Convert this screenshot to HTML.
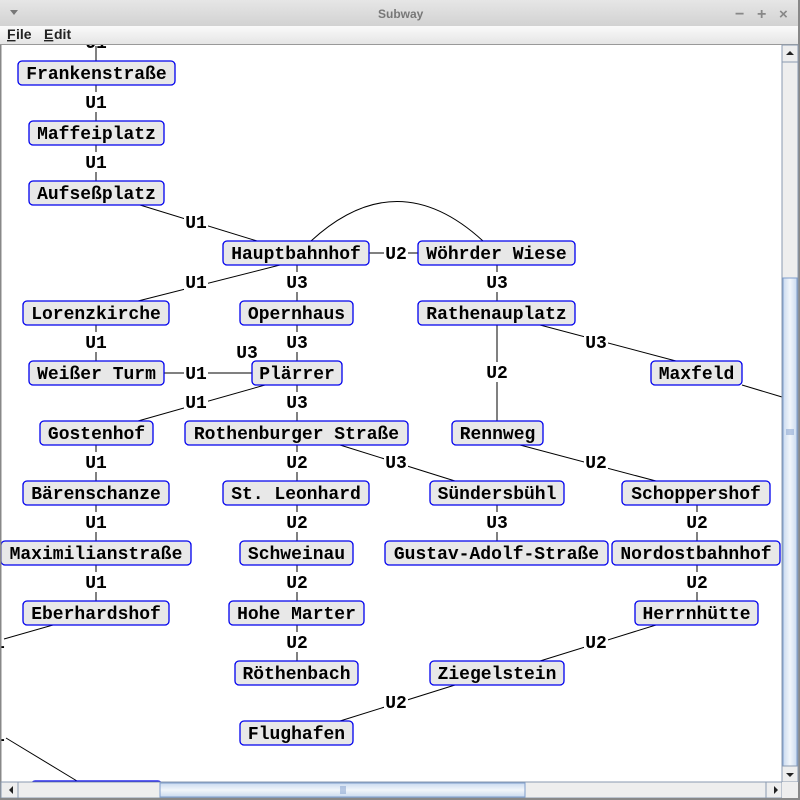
<!DOCTYPE html>
<html><head><meta charset="utf-8"><style>
html,body{margin:0;padding:0;width:800px;height:800px;overflow:hidden;background:#fff}
svg{display:block}
.n rect{fill:#e8e8e8;stroke:#0000ee;stroke-width:1.3}
text{font-family:"Liberation Mono",monospace;font-weight:bold;font-size:18px;fill:#000}
.l{stroke:#000;stroke-width:1;fill:none}
.lb{fill:#fff}
.m{font-family:'Liberation Sans',sans-serif;font-weight:bold;font-size:14px;fill:#222}
</style></head><body>
<svg width="800" height="800" xmlns="http://www.w3.org/2000/svg">
<defs><linearGradient id="tb" x1="0" y1="0" x2="0" y2="1"><stop offset="0" stop-color="#e6e6e6"/><stop offset="1" stop-color="#d2d2d2"/></linearGradient>
<linearGradient id="mb" x1="0" y1="0" x2="0" y2="1"><stop offset="0" stop-color="#fafafa"/><stop offset="1" stop-color="#e4e4e4"/></linearGradient>
<linearGradient id="th" x1="0" y1="0" x2="1" y2="0"><stop offset="0" stop-color="#c9daef"/><stop offset="0.5" stop-color="#f2f6fb"/><stop offset="1" stop-color="#c9daef"/></linearGradient>
<linearGradient id="thh" x1="0" y1="0" x2="0" y2="1"><stop offset="0" stop-color="#c9daef"/><stop offset="0.5" stop-color="#f2f6fb"/><stop offset="1" stop-color="#c9daef"/></linearGradient>
</defs>
<g class="l">
<line x1="96" y1="46" x2="96" y2="61"/>
<line x1="96" y1="85" x2="96" y2="121"/>
<line x1="96" y1="145" x2="96" y2="181"/>
<line x1="140" y1="205" x2="257" y2="241"/>
<line x1="280" y1="265" x2="138" y2="301"/>
<line x1="369" y1="253" x2="418" y2="253"/>
<path d="M311,241 Q397,162 483,241"/>
<line x1="297" y1="265" x2="297" y2="301"/>
<line x1="297" y1="325" x2="297" y2="361"/>
<line x1="497" y1="265" x2="497" y2="301"/>
<line x1="540" y1="325" x2="676" y2="361"/>
<line x1="497" y1="325" x2="497" y2="421"/>
<line x1="96" y1="325" x2="96" y2="361"/>
<line x1="164" y1="373" x2="252" y2="373"/>
<line x1="265" y1="385" x2="138" y2="421"/>
<line x1="297" y1="385" x2="297" y2="421"/>
<line x1="742" y1="385" x2="782" y2="397"/>
<line x1="96" y1="445" x2="96" y2="481"/>
<line x1="297" y1="445" x2="297" y2="481"/>
<line x1="340" y1="445" x2="455" y2="481"/>
<line x1="520" y1="445" x2="656" y2="481"/>
<line x1="96" y1="505" x2="96" y2="541"/>
<line x1="297" y1="505" x2="297" y2="541"/>
<line x1="497" y1="505" x2="497" y2="541"/>
<line x1="697" y1="505" x2="697" y2="541"/>
<line x1="96" y1="565" x2="96" y2="601"/>
<line x1="297" y1="565" x2="297" y2="601"/>
<line x1="697" y1="565" x2="697" y2="601"/>
<line x1="53" y1="625" x2="4" y2="639"/>
<line x1="297" y1="625" x2="297" y2="661"/>
<line x1="656" y1="625" x2="540" y2="661"/>
<line x1="455" y1="685" x2="340" y2="721"/>
<line x1="6" y1="738" x2="77" y2="781"/>
</g>
<g text-anchor="middle">
<g class="lb">
<rect x="84" y="92" width="24" height="20"/><rect x="84" y="152" width="24" height="20"/>
<rect x="184" y="212" width="24" height="20"/><rect x="184" y="272" width="24" height="20"/>
<rect x="384" y="243" width="24" height="20"/><rect x="285" y="272" width="24" height="20"/>
<rect x="285" y="332" width="24" height="20"/><rect x="485" y="272" width="24" height="20"/>
<rect x="584" y="332" width="24" height="20"/><rect x="485" y="362" width="24" height="20"/>
<rect x="84" y="332" width="24" height="20"/><rect x="184" y="363" width="24" height="20"/>
<rect x="184" y="392" width="24" height="20"/><rect x="285" y="392" width="24" height="20"/>
<rect x="84" y="452" width="24" height="20"/><rect x="285" y="452" width="24" height="20"/>
<rect x="384" y="452" width="24" height="20"/><rect x="584" y="452" width="24" height="20"/>
<rect x="84" y="512" width="24" height="20"/><rect x="285" y="512" width="24" height="20"/>
<rect x="485" y="512" width="24" height="20"/><rect x="685" y="512" width="24" height="20"/>
<rect x="84" y="572" width="24" height="20"/><rect x="285" y="572" width="24" height="20"/>
<rect x="685" y="572" width="24" height="20"/><rect x="285" y="632" width="24" height="20"/>
<rect x="584" y="632" width="24" height="20"/><rect x="384" y="692" width="24" height="20"/>
</g>
<text x="96" y="48">U1</text>
<text x="96" y="108">U1</text><text x="96" y="168">U1</text>
<text x="196" y="228">U1</text><text x="196" y="288">U1</text>
<text x="396" y="259">U2</text><text x="297" y="288">U3</text>
<text x="297" y="348">U3</text><text x="497" y="288">U3</text>
<text x="596" y="348">U3</text><text x="497" y="378">U2</text>
<text x="96" y="348">U1</text><text x="196" y="379">U1</text>
<text x="247" y="358">U3</text>
<text x="196" y="408">U1</text><text x="297" y="408">U3</text>
<text x="96" y="468">U1</text><text x="297" y="468">U2</text>
<text x="396" y="468">U3</text><text x="596" y="468">U2</text>
<text x="96" y="528">U1</text><text x="297" y="528">U2</text>
<text x="497" y="528">U3</text><text x="697" y="528">U2</text>
<text x="96" y="588">U1</text><text x="297" y="588">U2</text>
<text x="697" y="588">U2</text><text x="297" y="648">U2</text>
<text x="596" y="648">U2</text><text x="396" y="708">U2</text>
<text x="-6" y="648">U1</text><text x="-6" y="741">U1</text>
</g>
<g class="n" text-anchor="middle">
<rect x="18" y="61" width="157" height="24" rx="4"/><text x="96.5" y="79">Frankenstraße</text>
<rect x="29" y="121" width="135" height="24" rx="4"/><text x="96.5" y="139">Maffeiplatz</text>
<rect x="29" y="181" width="135" height="24" rx="4"/><text x="96.5" y="199">Aufseßplatz</text>
<rect x="223" y="241" width="146" height="24" rx="4"/><text x="296" y="259">Hauptbahnhof</text>
<rect x="418" y="241" width="157" height="24" rx="4"/><text x="496.5" y="259">Wöhrder Wiese</text>
<rect x="23" y="301" width="146" height="24" rx="4"/><text x="96" y="319">Lorenzkirche</text>
<rect x="240" y="301" width="113" height="24" rx="4"/><text x="296.5" y="319">Opernhaus</text>
<rect x="418" y="301" width="157" height="24" rx="4"/><text x="496.5" y="319">Rathenauplatz</text>
<rect x="29" y="361" width="135" height="24" rx="4"/><text x="96.5" y="379">Weißer Turm</text>
<rect x="252" y="361" width="90" height="24" rx="4"/><text x="297" y="379">Plärrer</text>
<rect x="651" y="361" width="91" height="24" rx="4"/><text x="696.5" y="379">Maxfeld</text>
<rect x="40" y="421" width="113" height="24" rx="4"/><text x="96.5" y="439">Gostenhof</text>
<rect x="185" y="421" width="223" height="24" rx="4"/><text x="296.5" y="439">Rothenburger Straße</text>
<rect x="452" y="421" width="91" height="24" rx="4"/><text x="497.5" y="439">Rennweg</text>
<rect x="23" y="481" width="146" height="24" rx="4"/><text x="96" y="499">Bärenschanze</text>
<rect x="223" y="481" width="146" height="24" rx="4"/><text x="296" y="499">St. Leonhard</text>
<rect x="430" y="481" width="134" height="24" rx="4"/><text x="497" y="499">Sündersbühl</text>
<rect x="622" y="481" width="148" height="24" rx="4"/><text x="696" y="499">Schoppershof</text>
<rect x="1" y="541" width="190" height="24" rx="4"/><text x="96" y="559">Maximilianstraße</text>
<rect x="240" y="541" width="113" height="24" rx="4"/><text x="296.5" y="559">Schweinau</text>
<rect x="385" y="541" width="223" height="24" rx="4"/><text x="496.5" y="559">Gustav-Adolf-Straße</text>
<rect x="612" y="541" width="168" height="24" rx="4"/><text x="696" y="559">Nordostbahnhof</text>
<rect x="23" y="601" width="146" height="24" rx="4"/><text x="96" y="619">Eberhardshof</text>
<rect x="229" y="601" width="135" height="24" rx="4"/><text x="296.5" y="619">Hohe Marter</text>
<rect x="635" y="601" width="123" height="24" rx="4"/><text x="696.5" y="619">Herrnhütte</text>
<rect x="235" y="661" width="123" height="24" rx="4"/><text x="296.5" y="679">Röthenbach</text>
<rect x="430" y="661" width="134" height="24" rx="4"/><text x="497" y="679">Ziegelstein</text>
<rect x="240" y="721" width="113" height="24" rx="4"/><text x="296.5" y="739">Flughafen</text>
<rect x="31" y="781" width="131" height="24" rx="4"/>
</g>
<rect x="0" y="0" width="800" height="26" fill="url(#tb)"/>
<path d="M10,10 L18,10 L14,15 Z" fill="#777"/>
<text x="378" y="18" style="font-family:'Liberation Sans',sans-serif;font-weight:bold;font-size:12px;fill:#777">Subway</text>
<text x="735" y="19" style="font-family:'Liberation Sans',sans-serif;font-size:16px;fill:#888">−</text>
<text x="757" y="19" style="font-family:'Liberation Sans',sans-serif;font-size:16px;fill:#888">+</text>
<text x="779" y="19" style="font-family:'Liberation Sans',sans-serif;font-size:15px;fill:#888">×</text>
<rect x="0" y="26" width="800" height="19" fill="url(#mb)"/>
<line x1="0" y1="44.5" x2="800" y2="44.5" stroke="#999"/>
<text x="7" y="39" class="m" style="text-decoration:underline">F</text>
<text x="16" y="39" class="m">ile</text>
<text x="44" y="39" class="m" style="text-decoration:underline">E</text>
<text x="54" y="39" class="m">dit</text>
<rect x="0" y="45" width="1.5" height="755" fill="#888"/>
<rect x="798" y="0" width="2" height="800" fill="#888"/>
<rect x="782" y="45" width="16" height="737" fill="#eeeeee" stroke="#8a9ab0" stroke-width="1"/>
<path d="M786,55 L794,55 L790,51 Z" fill="#222"/>
<line x1="782" y1="62" x2="798" y2="62" stroke="#8a9ab0"/>
<rect x="783" y="278" width="14" height="488" fill="url(#th)" stroke="#7f9dcc"/>
<line x1="786" y1="430" x2="794" y2="430" stroke="#7f9dcc"/><line x1="786" y1="432" x2="794" y2="432" stroke="#7f9dcc"/><line x1="786" y1="434" x2="794" y2="434" stroke="#7f9dcc"/>
<line x1="782" y1="766" x2="798" y2="766" stroke="#8a9ab0"/>
<path d="M786,773 L794,773 L790,777 Z" fill="#222"/>
<rect x="1" y="782" width="781" height="16" fill="#eeeeee" stroke="#8a9ab0"/>
<path d="M13,786 L13,794 L9,790 Z" fill="#222"/>
<line x1="18" y1="782" x2="18" y2="798" stroke="#8a9ab0"/>
<rect x="160" y="783" width="365" height="14" fill="url(#thh)" stroke="#7f9dcc"/>
<line x1="341" y1="786" x2="341" y2="794" stroke="#7f9dcc"/><line x1="343" y1="786" x2="343" y2="794" stroke="#7f9dcc"/><line x1="345" y1="786" x2="345" y2="794" stroke="#7f9dcc"/>
<line x1="766" y1="782" x2="766" y2="798" stroke="#8a9ab0"/>
<path d="M774,786 L774,794 L778,790 Z" fill="#222"/>
<rect x="782" y="782" width="16" height="16" fill="#eeeeee"/>
<rect x="0" y="798" width="800" height="2" fill="#888"/>
</svg>
</body></html>
